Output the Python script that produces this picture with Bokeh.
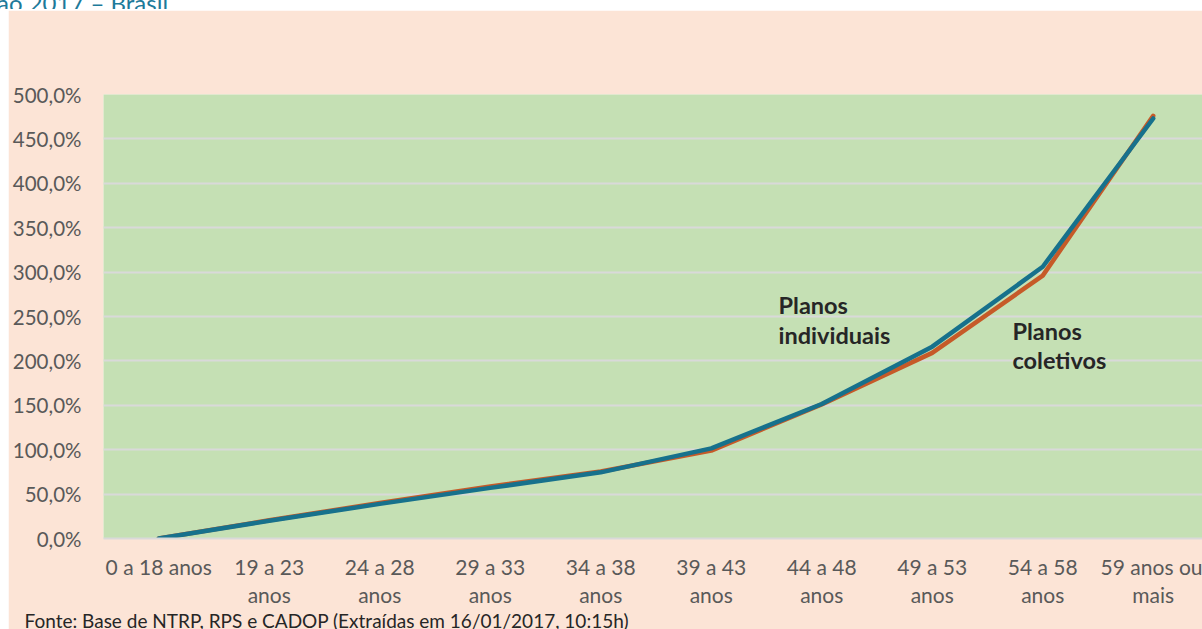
from bokeh.plotting import figure
from bokeh.models import Range1d, FixedTicker, LinearAxis, Label, Div, Title
from bokeh.layouts import column
from bokeh.embed import file_html
from bokeh.resources import INLINE

categories_line1 = ["0 a 18 anos", "19 a 23", "24 a 28", "29 a 33", "34 a 38",
                    "39 a 43", "44 a 48", "49 a 53", "54 a 58", "59 anos ou"]
categories_line2 = ["", "anos", "anos", "anos", "anos",
                    "anos", "anos", "anos", "anos", "mais"]
individuais = [0.0, 20.0, 39.0, 57.0, 74.5, 101.5, 151.5, 216.0, 306.0, 473.0]
coletivos = [0.0, 20.5, 40.0, 58.5, 75.5, 99.0, 151.0, 209.0, 296.0, 476.0]
y_ticks = [0, 50, 100, 150, 200, 250, 300, 350, 400, 450, 500]
y_tick_labels = ["0,0%", "50,0%", "100,0%", "150,0%", "200,0%", "250,0%",
                 "300,0%", "350,0%", "400,0%", "450,0%", "500,0%"]

FONT = "Lato"
GRAY = "#595959"
PEACH = "#FCE4D6"
GREEN = "#C5E0B4"
GRID = "#D9D9D9"
TEAL = "#1D7A9A"

xs = list(range(len(categories_line1)))

title = Div(text=('<div style="font-family: Lato; font-size: 24px; color: %s; '
                  'white-space: nowrap; margin-top: -18px; margin-left: -3px; '
                  'line-height: 24px;">ão 2017 – Brasil</div>') % TEAL,
            width=400, height=9, margin=0, styles={"overflow": "hidden"})

p = figure(width=1194, height=619, output_backend="svg", toolbar_location=None,
           x_range=Range1d(-0.5, 9.446), y_range=Range1d(0, 500),
           min_border_left=95, min_border_right=0, min_border_top=84,
           min_border_bottom=91, x_axis_location=None, tools="")
p.margin = (1, 0, 0, 8)
p.border_fill_color = PEACH
p.background_fill_color = GREEN
p.outline_line_color = None

# y axis
p.yaxis.ticker = FixedTicker(ticks=y_ticks)
p.yaxis.major_label_overrides = {t: l for t, l in zip(y_ticks, y_tick_labels)}
p.yaxis.axis_line_color = None
p.yaxis.major_tick_line_color = None
p.yaxis.minor_tick_line_color = None
p.yaxis.major_label_text_font = FONT
p.yaxis.major_label_text_font_size = "20.5px"
p.yaxis.major_label_text_color = GRAY
p.yaxis.major_label_standoff = 16

p.ygrid.ticker = FixedTicker(ticks=y_ticks)
p.ygrid.grid_line_color = GRID
p.ygrid.grid_line_width = 1.8
p.xgrid.grid_line_color = None

# x axes (two label lines)
ax1 = LinearAxis(ticker=FixedTicker(ticks=xs),
                 major_label_overrides={x: l for x, l in zip(xs, categories_line1)})
ax2 = LinearAxis(ticker=FixedTicker(ticks=xs),
                 major_label_overrides={x: l for x, l in zip(xs, categories_line2)})
for ax, standoff in ((ax1, 9), (ax2, -6)):
    ax.major_tick_line_color = None
    ax.minor_tick_line_color = None
    ax.major_label_text_font = FONT
    ax.major_label_text_font_size = "21px"
    ax.major_label_text_color = GRAY
    ax.major_label_standoff = standoff
ax1.axis_line_color = GRID
ax1.axis_line_width = 1.8
ax2.axis_line_color = None
p.add_layout(ax1, "below")
p.add_layout(ax2, "below")

footer = Title(text="Fonte: Base de NTRP, RPS e CADOP (Extraídas em 16/01/2017, 10:15h)",
               align="left", offset=-79, standoff=-6, text_font=FONT,
               text_font_size="19px", text_font_style="normal", text_color="#262626")
p.add_layout(footer, "below")

p.line(xs, coletivos, line_color="#C65A28", line_width=4.5,
       line_cap="round", line_join="round")
p.line(xs, individuais, line_color="#17718C", line_width=4.5,
       line_cap="round", line_join="round")

for txt, x, y in (("Planos", 5.609, 262.4), ("individuais", 5.609, 229.7),
                  ("Planos", 7.726, 234.2), ("coletivos", 7.726, 200.5)):
    p.add_layout(Label(x=x, y=y, text=txt, text_font=FONT, text_font_style="bold",
                       text_font_size="23.5px", text_color="#262626",
                       text_baseline="middle", text_align="left"))

layout = column(title, p, spacing=0)
open("out.html", "w").write(file_html(layout, INLINE))
